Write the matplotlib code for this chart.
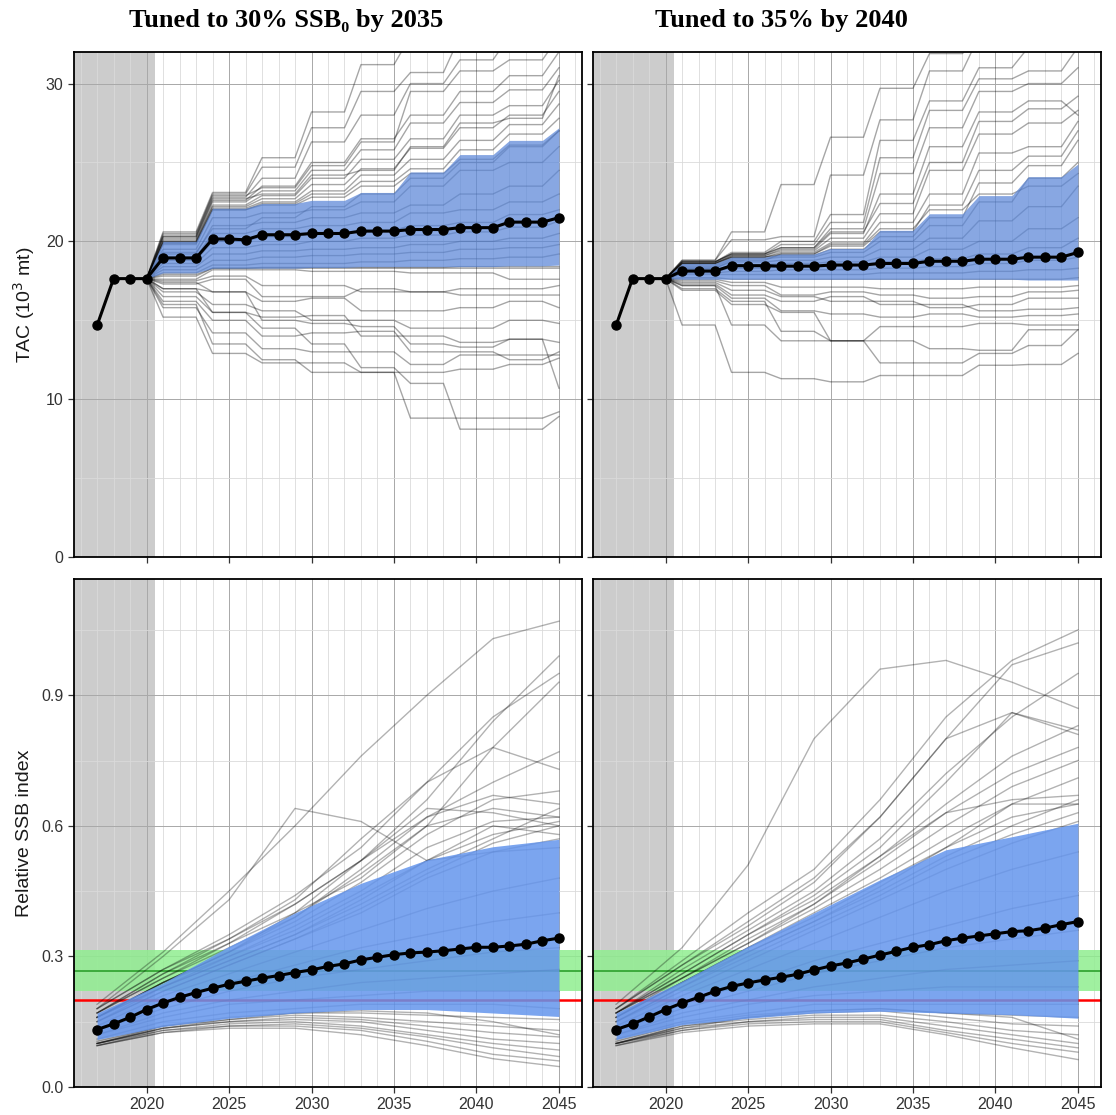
import numpy as np
import matplotlib
matplotlib.use("Agg")
import matplotlib.pyplot as plt
from matplotlib.ticker import MultipleLocator

# ---------------- data ----------------
years = list(range(2017, 2046))
tac_years = list(range(2020, 2046))          # projection years for TAC simulations
tac_start = 17.64                            # TAC in 2020, common start
ssb_knot_years = [2017, 2021, 2025, 2029, 2033, 2037, 2041, 2045]

titles = ["Tuned to 30% SSB\u2080 by 2035", "Tuned to 35% by 2040"]

# Median TAC (10^3 mt), 2017-2045
tac_median_a = [14.68, 17.64, 17.64, 17.64, 18.95, 18.95, 18.95, 20.15, 20.15, 20.1,
                20.42, 20.42, 20.42, 20.5, 20.5, 20.5, 20.65, 20.65, 20.65, 20.75,
                20.75, 20.75, 20.87, 20.87, 20.87, 21.22, 21.22, 21.22, 21.5]
tac_median_b = [14.68, 17.64, 17.64, 17.64, 18.12, 18.12, 18.12, 18.46, 18.46, 18.46,
                18.43, 18.43, 18.43, 18.5, 18.5, 18.5, 18.6, 18.6, 18.6, 18.74,
                18.74, 18.74, 18.87, 18.87, 18.87, 19.0, 19.0, 19.0, 19.3]

# TAC held for 3-year blocks: values for 2021-23, 24-26, 27-29, 30-32, 33-35, 36-38, 39-41, 42-44, 2045
tac_band_lo_a = [18.0, 18.3, 18.3, 18.35, 18.4, 18.4, 18.4, 18.45, 18.5]
tac_band_hi_a = [20.0, 22.1, 22.4, 22.6, 23.1, 24.4, 25.5, 26.4, 27.2]
tac_band_lo_b = [17.6, 17.6, 17.6, 17.6, 17.6, 17.6, 17.6, 17.55, 17.55]
tac_band_hi_b = [18.6, 19.0, 19.2, 19.55, 20.7, 21.75, 22.9, 24.1, 24.9]

tac_sims_a = [
    [20.6, 23.1, 25.3, 28.2, 31.2, 33.0, 33.0, 33.0, 33.0],
    [20.4, 23.0, 24.7, 27.2, 29.5, 30.7, 33.0, 33.0, 33.0],
    [20.3, 22.8, 24.0, 26.3, 28.0, 30.0, 31.5, 33.0, 33.0],
    [20.2, 22.6, 23.5, 25.0, 26.5, 28.0, 29.5, 30.5, 32.0],
    [20.1, 22.5, 23.2, 24.5, 25.8, 27.5, 28.8, 29.6, 31.0],
    [20.0, 22.3, 22.9, 24.0, 25.2, 26.5, 28.0, 28.6, 30.2],
    [20.0, 22.2, 22.7, 23.6, 24.6, 25.9, 27.2, 28.0, 29.5],
    [19.9, 22.1, 22.5, 23.2, 24.2, 25.2, 26.4, 27.4, 28.7],
    [19.9, 22.0, 22.4, 23.0, 23.8, 24.6, 25.8, 26.8, 27.8],
    [19.8, 22.0, 22.3, 22.8, 23.5, 24.3, 25.2, 26.1, 27.0],
    [20.5, 22.9, 23.4, 24.8, 26.3, 29.5, 30.8, 31.5, 33.0],
    [20.3, 22.7, 23.0, 24.2, 24.5, 26.0, 27.5, 27.8, 30.5],
    [19.5, 21.5, 21.8, 22.0, 22.5, 23.5, 24.5, 25.0, 26.0],
    [19.2, 21.0, 21.2, 21.5, 21.8, 22.3, 23.0, 23.5, 24.5],
    [19.0, 20.5, 20.8, 21.0, 21.2, 21.8, 22.0, 22.5, 23.0],
    [18.8, 20.0, 20.3, 20.5, 20.7, 21.0, 21.2, 21.7, 22.0],
    [18.6, 19.6, 19.8, 20.0, 20.2, 20.4, 20.6, 20.9, 21.3],
    [18.4, 19.2, 19.4, 19.5, 19.6, 19.8, 20.0, 20.2, 20.5],
    [18.2, 18.8, 19.0, 19.1, 19.2, 19.3, 19.5, 19.6, 19.8],
    [18.0, 18.5, 18.6, 18.6, 18.7, 18.8, 18.9, 19.0, 19.2],
    [19.3, 20.8, 21.5, 22.2, 23.0, 24.0, 25.0, 26.0, 27.0],
    [17.8, 18.3, 18.3, 18.3, 18.3, 18.3, 18.3, 18.3, 18.3],
    [17.9, 18.3, 18.35, 18.35, 18.35, 18.35, 18.4, 18.4, 18.4],
    [17.6, 18.2, 18.2, 18.1, 18.1, 18.0, 18.0, 17.6, 17.6],
    [17.5, 17.8, 17.2, 17.2, 16.8, 16.8, 16.6, 16.6, 16.6],
    [17.3, 17.6, 16.5, 16.5, 17.0, 16.8, 17.0, 17.0, 17.2],
    [17.0, 16.8, 16.2, 16.4, 15.6, 15.6, 15.8, 16.2, 15.8],
    [16.8, 16.0, 15.6, 15.0, 15.0, 14.5, 14.5, 15.0, 14.8],
    [16.5, 15.5, 15.2, 15.3, 14.0, 14.0, 13.6, 13.8, 13.6],
    [16.2, 15.0, 14.0, 14.2, 14.3, 13.0, 13.0, 12.5, 13.0],
    [15.8, 14.2, 13.2, 13.0, 13.0, 12.2, 12.8, 12.8, 12.8],
    [15.2, 12.9, 12.3, 12.3, 11.7, 11.7, 11.9, 12.2, 12.6],
    [16.0, 13.5, 12.5, 11.7, 11.7, 8.8, 8.8, 8.8, 9.2],
    [17.0, 15.5, 14.5, 13.5, 12.0, 11.0, 8.1, 8.1, 8.9],
    [17.4, 16.8, 15.0, 14.8, 14.6, 13.5, 13.3, 13.8, 10.7],
]

tac_sims_b = [
    [18.8, 20.6, 23.6, 26.6, 29.7, 31.9, 33.0, 33.0, 33.0],
    [18.8, 20.1, 20.3, 24.2, 27.7, 30.8, 33.0, 33.0, 33.0],
    [18.7, 19.3, 20.0, 21.7, 26.4, 28.9, 31.0, 32.3, 33.0],
    [18.7, 19.2, 19.8, 21.2, 25.3, 28.3, 30.3, 30.8, 32.3],
    [18.7, 19.2, 19.6, 20.8, 24.3, 27.2, 29.5, 30.0, 31.0],
    [18.6, 19.1, 19.5, 20.5, 23.0, 26.0, 28.2, 28.9, 28.0],
    [18.6, 19.1, 19.4, 20.2, 21.75, 24.5, 26.8, 27.5, 28.3],
    [18.6, 19.0, 19.3, 19.9, 21.2, 23.0, 25.6, 26.0, 27.6],
    [18.6, 19.0, 19.2, 19.7, 20.6, 22.3, 24.5, 25.4, 27.0],
    [18.5, 19.0, 19.1, 19.5, 20.3, 21.5, 23.7, 24.8, 26.4],
    [18.7, 19.2, 19.6, 20.6, 22.4, 25.0, 27.6, 28.4, 29.2],
    [18.4, 18.9, 19.0, 19.3, 20.0, 21.0, 22.5, 24.0, 25.0],
    [18.3, 18.7, 18.8, 19.0, 19.5, 20.2, 21.3, 22.2, 23.5],
    [18.2, 18.5, 18.6, 18.7, 19.0, 19.5, 20.0, 20.8, 21.5],
    [18.1, 18.3, 18.4, 18.5, 18.7, 18.9, 19.2, 19.6, 20.2],
    [18.0, 18.1, 18.2, 18.2, 18.3, 18.4, 18.6, 18.8, 19.0],
    [17.9, 17.9, 17.9, 17.9, 18.0, 18.0, 18.1, 18.2, 18.3],
    [18.3, 18.8, 19.2, 19.8, 20.8, 22.0, 23.0, 23.5, 24.3],
    [17.7, 17.6, 17.6, 17.6, 17.6, 17.6, 17.6, 17.6, 17.7],
    [17.6, 17.4, 17.1, 17.1, 17.0, 17.0, 17.1, 17.1, 17.2],
    [17.5, 17.2, 16.6, 16.8, 16.6, 16.4, 16.5, 16.8, 16.9],
    [17.4, 16.9, 16.5, 16.2, 16.2, 15.8, 16.0, 16.4, 16.4],
    [17.3, 16.6, 16.2, 16.5, 16.0, 16.0, 15.6, 15.7, 15.8],
    [17.2, 16.4, 15.6, 15.4, 15.2, 15.4, 15.2, 15.3, 15.4],
    [17.0, 16.2, 14.3, 13.7, 14.6, 14.6, 14.8, 14.7, 14.7],
    [16.9, 16.0, 15.5, 13.7, 13.7, 13.2, 13.1, 14.4, 14.4],
    [17.2, 14.7, 13.7, 13.7, 12.3, 12.3, 12.9, 13.4, 14.4],
    [14.7, 11.7, 11.3, 11.1, 11.5, 11.5, 12.15, 12.2, 12.9],
]

# Relative SSB index, median 2017-2045
ssb_median_a = [0.132, 0.145, 0.160, 0.178, 0.193, 0.206, 0.217, 0.227, 0.236, 0.243,
                0.250, 0.256, 0.263, 0.269, 0.277, 0.283, 0.292, 0.298, 0.304, 0.308,
                0.310, 0.313, 0.317, 0.321, 0.321, 0.324, 0.328, 0.336, 0.342]
ssb_median_b = [0.132, 0.145, 0.161, 0.178, 0.193, 0.206, 0.220, 0.231, 0.239, 0.246,
                0.252, 0.259, 0.269, 0.278, 0.285, 0.294, 0.303, 0.312, 0.321, 0.327,
                0.336, 0.342, 0.347, 0.352, 0.357, 0.359, 0.365, 0.373, 0.380]

# Band (at knot years)
ssb_band_lo_a = [0.109, 0.139, 0.158, 0.170, 0.178, 0.178, 0.170, 0.162]
ssb_band_hi_a = [0.170, 0.239, 0.323, 0.400, 0.468, 0.522, 0.552, 0.569]
ssb_band_lo_b = [0.109, 0.143, 0.158, 0.170, 0.174, 0.170, 0.166, 0.158]
ssb_band_hi_b = [0.170, 0.243, 0.323, 0.400, 0.476, 0.545, 0.575, 0.606]

ssb_sims_a = [
    [0.19, 0.31, 0.45, 0.60, 0.76, 0.90, 1.03, 1.07],
    [0.18, 0.30, 0.43, 0.64, 0.61, 0.52, 0.54, 0.55],
    [0.18, 0.27, 0.34, 0.42, 0.52, 0.66, 0.84, 0.99],
    [0.18, 0.27, 0.35, 0.44, 0.55, 0.70, 0.85, 0.95],
    [0.17, 0.26, 0.33, 0.40, 0.48, 0.60, 0.78, 0.93],
    [0.17, 0.26, 0.34, 0.43, 0.57, 0.70, 0.78, 0.73],
    [0.17, 0.25, 0.32, 0.39, 0.50, 0.62, 0.70, 0.77],
    [0.17, 0.25, 0.33, 0.42, 0.52, 0.62, 0.67, 0.65],
    [0.16, 0.24, 0.31, 0.38, 0.47, 0.58, 0.66, 0.68],
    [0.16, 0.24, 0.31, 0.40, 0.52, 0.64, 0.63, 0.60],
    [0.16, 0.24, 0.30, 0.37, 0.45, 0.55, 0.61, 0.62],
    [0.16, 0.23, 0.30, 0.36, 0.44, 0.52, 0.58, 0.61],
    [0.16, 0.23, 0.29, 0.35, 0.43, 0.52, 0.60, 0.58],
    [0.15, 0.23, 0.29, 0.35, 0.42, 0.50, 0.57, 0.64],
    [0.15, 0.22, 0.28, 0.34, 0.41, 0.49, 0.56, 0.60],
    [0.15, 0.22, 0.28, 0.34, 0.40, 0.48, 0.54, 0.57],
    [0.16, 0.24, 0.31, 0.39, 0.49, 0.60, 0.64, 0.62],
    [0.14, 0.21, 0.26, 0.31, 0.36, 0.41, 0.45, 0.48],
    [0.13, 0.19, 0.24, 0.28, 0.32, 0.35, 0.38, 0.40],
    [0.13, 0.18, 0.22, 0.25, 0.27, 0.29, 0.31, 0.32],
    [0.12, 0.17, 0.20, 0.22, 0.24, 0.25, 0.26, 0.27],
    [0.12, 0.16, 0.19, 0.20, 0.21, 0.22, 0.22, 0.22],
    [0.11, 0.15, 0.17, 0.18, 0.19, 0.19, 0.19, 0.18],
    [0.105, 0.14, 0.16, 0.17, 0.17, 0.165, 0.16, 0.155],
    [0.10, 0.14, 0.155, 0.165, 0.16, 0.15, 0.14, 0.13],
    [0.10, 0.135, 0.15, 0.16, 0.155, 0.14, 0.125, 0.115],
    [0.10, 0.135, 0.15, 0.155, 0.15, 0.13, 0.11, 0.10],
    [0.10, 0.13, 0.145, 0.15, 0.14, 0.12, 0.10, 0.085],
    [0.095, 0.13, 0.14, 0.145, 0.135, 0.115, 0.09, 0.07],
    [0.095, 0.125, 0.14, 0.14, 0.13, 0.105, 0.075, 0.06],
    [0.095, 0.125, 0.135, 0.135, 0.12, 0.095, 0.065, 0.047],
    [0.10, 0.135, 0.155, 0.17, 0.175, 0.17, 0.15, 0.12],
]

ssb_sims_b = [
    [0.19, 0.32, 0.51, 0.80, 0.96, 0.98, 0.93, 0.87],
    [0.18, 0.29, 0.40, 0.50, 0.66, 0.85, 0.98, 1.05],
    [0.18, 0.28, 0.38, 0.48, 0.62, 0.80, 0.97, 1.02],
    [0.18, 0.28, 0.37, 0.47, 0.62, 0.80, 0.86, 0.81],
    [0.17, 0.27, 0.36, 0.45, 0.57, 0.72, 0.85, 0.95],
    [0.17, 0.26, 0.35, 0.44, 0.55, 0.70, 0.86, 0.82],
    [0.17, 0.26, 0.35, 0.43, 0.53, 0.65, 0.76, 0.83],
    [0.17, 0.25, 0.34, 0.42, 0.52, 0.63, 0.72, 0.78],
    [0.17, 0.25, 0.33, 0.41, 0.50, 0.60, 0.69, 0.75],
    [0.16, 0.25, 0.33, 0.42, 0.53, 0.63, 0.66, 0.67],
    [0.16, 0.24, 0.32, 0.40, 0.48, 0.57, 0.65, 0.71],
    [0.16, 0.24, 0.32, 0.39, 0.47, 0.55, 0.62, 0.65],
    [0.16, 0.24, 0.31, 0.38, 0.46, 0.55, 0.65, 0.65],
    [0.15, 0.23, 0.31, 0.38, 0.45, 0.53, 0.60, 0.66],
    [0.15, 0.23, 0.30, 0.37, 0.44, 0.52, 0.58, 0.63],
    [0.15, 0.22, 0.29, 0.36, 0.43, 0.50, 0.56, 0.61],
    [0.14, 0.21, 0.27, 0.33, 0.39, 0.45, 0.50, 0.54],
    [0.13, 0.19, 0.24, 0.29, 0.33, 0.37, 0.41, 0.44],
    [0.13, 0.18, 0.22, 0.26, 0.29, 0.32, 0.34, 0.36],
    [0.12, 0.17, 0.20, 0.23, 0.25, 0.27, 0.28, 0.29],
    [0.12, 0.16, 0.19, 0.21, 0.22, 0.23, 0.23, 0.23],
    [0.11, 0.15, 0.17, 0.19, 0.19, 0.19, 0.19, 0.19],
    [0.105, 0.145, 0.165, 0.175, 0.18, 0.17, 0.165, 0.16],
    [0.10, 0.14, 0.16, 0.17, 0.175, 0.16, 0.145, 0.14],
    [0.10, 0.14, 0.155, 0.165, 0.165, 0.15, 0.13, 0.12],
    [0.10, 0.135, 0.15, 0.16, 0.16, 0.14, 0.12, 0.10],
    [0.10, 0.13, 0.15, 0.155, 0.155, 0.13, 0.11, 0.09],
    [0.095, 0.13, 0.145, 0.15, 0.15, 0.125, 0.10, 0.08],
    [0.095, 0.125, 0.14, 0.145, 0.145, 0.12, 0.09, 0.063],
    [0.10, 0.135, 0.16, 0.175, 0.18, 0.17, 0.16, 0.11],
]

ssb_limit = 0.2          # red reference line
ssb_target = 0.267       # green target line
ssb_target_range = [0.22, 0.315]
history_end = 2020.5

# ---------------- helpers ----------------
def tac_series(blocks):
    """TAC held constant for 3-year blocks starting 2021; 2045 is its own value."""
    vals = [tac_start]
    for b in blocks[:-1]:
        vals += [b, b, b]
    vals.append(blocks[-1])
    return vals

BLUE = "#6495ED"

def style_axis(ax, ylim, major, minor, show_xlabels):
    ax.set_xlim(2015.6, 2046.4)
    ax.set_ylim(*ylim)
    ax.xaxis.set_major_locator(MultipleLocator(5))
    ax.xaxis.set_minor_locator(MultipleLocator(1))
    ax.yaxis.set_major_locator(MultipleLocator(major))
    ax.yaxis.set_minor_locator(MultipleLocator(minor))
    ax.grid(which="major", color="#a8a8a8", linewidth=0.7, zorder=0.5)
    ax.grid(which="minor", color="#dadada", linewidth=0.6, zorder=0.5)
    ax.set_axisbelow(True)
    ax.tick_params(which="major", direction="out", length=4, width=0.9,
                   color="#333333", labelsize=11.5, labelcolor="#333333")
    ax.tick_params(which="minor", length=0)
    if not show_xlabels:
        ax.tick_params(axis="x", labelbottom=False)
    for s in ax.spines.values():
        s.set_color("black")
        s.set_linewidth(1.3)
        s.set_zorder(10)
    ax.axvspan(2015.6, history_end, color="#cccccc", zorder=0.2, lw=0)


plt.rcParams["font.family"] = ["Liberation Sans", "DejaVu Sans"]
fig = plt.figure(figsize=(11.16, 11.15), dpi=100)

W, H = 1116, 1115
pos = {
    "tl": [74 / W, 1 - 557 / H, 508 / W, 505 / H],
    "tr": [593 / W, 1 - 557 / H, 508 / W, 505 / H],
    "bl": [74 / W, 1 - 1087 / H, 508 / W, 508 / H],
    "br": [593 / W, 1 - 1087 / H, 508 / W, 508 / H],
}

tac_sets = [(tac_sims_a, tac_band_lo_a, tac_band_hi_a, tac_median_a),
            (tac_sims_b, tac_band_lo_b, tac_band_hi_b, tac_median_b)]
ssb_sets = [(ssb_sims_a, ssb_band_lo_a, ssb_band_hi_a, ssb_median_a),
            (ssb_sims_b, ssb_band_lo_b, ssb_band_hi_b, ssb_median_b)]

for i, key in enumerate(["tl", "tr"]):
    ax = fig.add_axes(pos[key])
    style_axis(ax, (0, 32), 10, 5, False)
    sims, lo, hi, med = tac_sets[i]
    for s in sims:
        ax.plot(tac_years, tac_series(s), color="black", alpha=0.35, lw=1.0, zorder=2)
    ax.fill_between(tac_years, tac_series(lo), tac_series(hi), color="#5a86d8",
                    alpha=0.72, lw=0, zorder=3)
    ax.plot(years, med, color="black", lw=2.2, marker="o", ms=6.5, zorder=5)
    if i == 1:
        ax.tick_params(axis="y", labelleft=False)
    else:
        ax.set_ylabel("TAC (10$^3$ mt)", fontsize=14, color="#1a1a1a", labelpad=6)

for i, key in enumerate(["bl", "br"]):
    ax = fig.add_axes(pos[key])
    style_axis(ax, (0, 1.167), 0.3, 0.15, True)
    sims, lo, hi, med = ssb_sets[i]
    ax.axhspan(ssb_target_range[0], ssb_target_range[1], color="#90EE90",
               alpha=0.85, lw=0, zorder=0.6)
    ax.axhline(ssb_target, color="#2ca02c", lw=1.2, zorder=0.7)
    ax.axhline(ssb_limit, color="red", lw=1.8, zorder=0.7)
    for s in sims:
        ax.plot(ssb_knot_years, s, color="black", alpha=0.3, lw=1.0, zorder=2)
    ax.fill_between(ssb_knot_years, lo, hi, color=BLUE, alpha=0.85, lw=0, zorder=3)
    ax.plot(years, med, color="black", lw=2.2, marker="o", ms=6.5, zorder=5)
    ax.yaxis.set_major_formatter(matplotlib.ticker.FormatStrFormatter("%.1f"))
    if i == 1:
        ax.tick_params(axis="y", labelleft=False)
    else:
        ax.set_ylabel("Relative SSB index", fontsize=14, color="#1a1a1a", labelpad=6)

title_font = dict(family=["Liberation Serif", "DejaVu Serif"], fontweight="bold", fontsize=19)
fig.text(286 / W, 1 - 21 / H, titles[0], ha="center", va="center", **title_font)
fig.text(781 / W, 1 - 21 / H, titles[1], ha="center", va="center", **title_font)

fig.savefig("out.png", dpi=100)
